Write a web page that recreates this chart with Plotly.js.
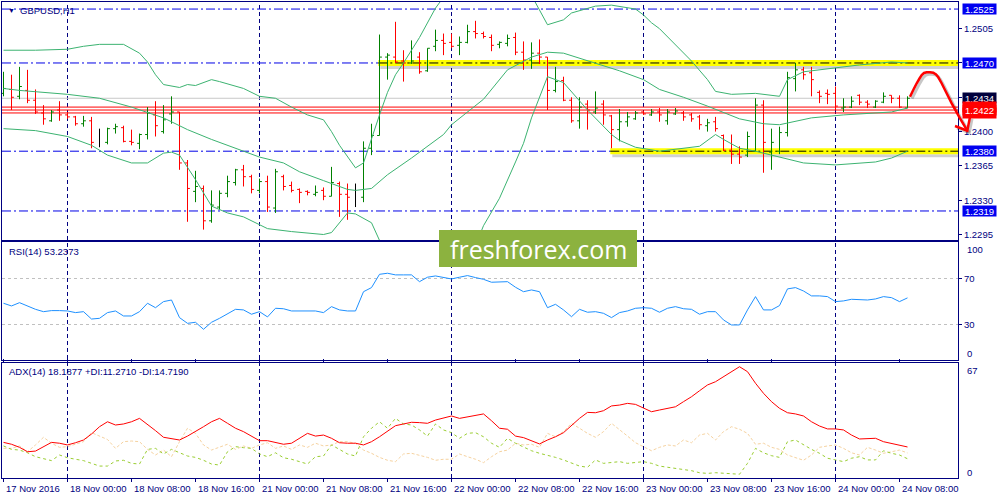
<!DOCTYPE html>
<html><head><meta charset="utf-8">
<script src="https://cdn.plot.ly/plotly-3.0.1.min.js"></script>
<style>html,body{margin:0;padding:0;background:#fff;}#chart{width:1000px;height:500px;}</style>
</head><body><div id="chart"></div>
<script>
// ---------- DATA ----------
const xLabels = ["17 Nov 2016","18 Nov 00:00","18 Nov 08:00","18 Nov 16:00","21 Nov 00:00","21 Nov 08:00","21 Nov 16:00","22 Nov 00:00","22 Nov 08:00","22 Nov 16:00","23 Nov 00:00","23 Nov 08:00","23 Nov 16:00","24 Nov 00:00","24 Nov 08:00"];
const xLabelIdx = [0,8,16,24,32,40,48,56,64,72,80,88,96,104,112];

const barOpen = [1.2439,1.2443,1.2436,1.2442,1.2432,1.2419,1.2411,1.2422,1.2417,1.2415,
1.2408,1.2411,1.2390,1.2389,1.2403,1.2404,1.2390,1.2388,1.2397,1.2417,
1.2400,1.2418,1.2420,1.2368,1.2339,1.2342,1.2309,1.2323,1.2337,1.2348,
1.2361,1.2354,1.2340,1.2349,1.2322,1.2354,1.2345,1.2341,1.2339,1.2336,
1.2340,1.2334,1.2347,1.2336,1.2333,1.2333,1.2383,1.2396,1.2476,1.2476,
1.2472,1.2470,1.2476,1.2462,1.2487,1.2493,1.2491,1.2488,1.2491,1.2502,
1.2500,1.2496,1.2489,1.2490,1.2496,1.2481,1.2473,1.2480,1.2476,1.2442,
1.2452,1.2432,1.2411,1.2428,1.2420,1.2428,1.2416,1.2402,1.2410,1.2413,
1.2420,1.2417,1.2420,1.2411,1.2418,1.2419,1.2417,1.2415,1.2406,1.2410,
1.2396,1.2381,1.2377,1.2376,1.2380,1.2427,1.2379,1.2380,1.2399,1.2454,
1.2463,1.2460,1.2440,1.2439,1.2439,1.2424,1.2425,1.2437,1.2430,1.2425,
1.2430,1.2437,1.2434,1.2424];
const barHigh = [1.2461,1.2458,1.2466,1.2463,1.2443,1.2427,1.2422,1.2431,1.2420,1.2416,
1.2416,1.2415,1.2403,1.2404,1.2408,1.2406,1.2402,1.2398,1.2425,1.2431,
1.2427,1.2436,1.2420,1.2371,1.2360,1.2345,1.2340,1.2340,1.2355,1.2362,
1.2366,1.2356,1.2352,1.2355,1.2362,1.2356,1.2349,1.2342,1.2340,1.2345,
1.2343,1.2364,1.2349,1.2347,1.2347,1.2390,1.2408,1.2499,1.2480,1.2512,
1.2483,1.2493,1.2481,1.2485,1.2504,1.2500,1.2500,1.2497,1.2509,1.2513,
1.2502,1.2499,1.2492,1.2499,1.2501,1.2492,1.2491,1.2494,1.2476,1.2466,
1.2456,1.2435,1.2435,1.2432,1.2441,1.2432,1.2417,1.2423,1.2420,1.2421,
1.2421,1.2423,1.2424,1.2423,1.2424,1.2421,1.2419,1.2417,1.2413,1.2415,
1.2397,1.2397,1.2385,1.2400,1.2434,1.2432,1.2403,1.2405,1.2461,1.2470,
1.2466,1.2466,1.2442,1.2443,1.2446,1.2434,1.2436,1.2438,1.2432,1.2432,
1.2440,1.2437,1.2437,1.2436];
const barLow = [1.2436,1.2422,1.2433,1.2429,1.2418,1.2407,1.2410,1.2411,1.2413,1.2406,
1.2405,1.2383,1.2384,1.2387,1.2398,1.2389,1.2386,1.2382,1.2392,1.2395,
1.2398,1.2408,1.2361,1.2308,1.2328,1.2300,1.2307,1.2320,1.2333,1.2345,
1.2344,1.2337,1.2337,1.2318,1.2317,1.2340,1.2338,1.2327,1.2335,1.2334,
1.2330,1.2334,1.2313,1.2310,1.2323,1.2328,1.2376,1.2396,1.2453,1.2470,
1.2451,1.2469,1.2459,1.2461,1.2482,1.2478,1.2485,1.2478,1.2490,1.2495,
1.2495,1.2482,1.2485,1.2487,1.2478,1.2463,1.2464,1.2469,1.2422,1.2440,
1.2431,1.2409,1.2403,1.2402,1.2418,1.2407,1.2383,1.2390,1.2405,1.2412,
1.2417,1.2416,1.2410,1.2407,1.2417,1.2411,1.2410,1.2402,1.2400,1.2400,
1.2380,1.2367,1.2367,1.2374,1.2380,1.2358,1.2361,1.2377,1.2395,1.2441,
1.2453,1.2436,1.2429,1.2428,1.2422,1.2420,1.2424,1.2427,1.2424,1.2424,
1.2429,1.2429,1.2424,1.2424];
const barClose = [1.2444,1.2435,1.2446,1.2432,1.2420,1.2413,1.2420,1.2417,1.2415,1.2408,
1.2411,1.2389,1.2390,1.2403,1.2405,1.2390,1.2389,1.2397,1.2419,1.2406,
1.2412,1.2420,1.2368,1.2342,1.2344,1.2309,1.2325,1.2337,1.2349,1.2361,
1.2354,1.2341,1.2349,1.2323,1.2359,1.2344,1.2340,1.2338,1.2338,1.2338,
1.2334,1.2348,1.2336,1.2333,1.2333,1.2383,1.2396,1.2476,1.2478,1.2471,
1.2470,1.2472,1.2461,1.2485,1.2493,1.2490,1.2487,1.2491,1.2502,1.2500,
1.2497,1.2488,1.2491,1.2495,1.2481,1.2473,1.2480,1.2476,1.2442,1.2451,
1.2432,1.2411,1.2425,1.2422,1.2424,1.2417,1.2402,1.2410,1.2415,1.2419,
1.2418,1.2420,1.2417,1.2420,1.2421,1.2415,1.2413,1.2407,1.2409,1.2403,
1.2381,1.2377,1.2374,1.2395,1.2427,1.2389,1.2389,1.2399,1.2455,1.2463,
1.2458,1.2453,1.2436,1.2438,1.2426,1.2425,1.2431,1.2430,1.2428,1.2431,
1.2436,1.2434,1.2425,1.2434];

// Bollinger bands (read at sampled bars)
const bbUpperIdx = [0,4,8,10,12,15,17,18,19,20,22,23,24,26,27,30,32,34,36,38,40,41,42,44,45,46,47,48,49,50,52,54,55,58,62,65,66,68,70,71,74,76,79,80,81,82,84,86,88,89,91,94,97,98,100,104,107,111,113];
const bbUpper = [1.2483,1.2483,1.2484,1.2487,1.2489,1.2489,1.2480,1.2471,1.2458,1.2448,1.2445,1.2448,1.2447,1.2453,1.2451,1.2444,1.2436,1.2434,1.2425,1.2417,1.2412,1.2400,1.2386,1.2363,1.2368,1.2393,1.2417,1.2440,1.2458,1.2470,1.2496,1.2526,1.2537,1.2560,1.2570,1.2555,1.2539,1.2509,1.2514,1.2521,1.2528,1.2529,1.2525,1.2519,1.2511,1.2505,1.2488,1.2472,1.2453,1.2441,1.2438,1.2439,1.2436,1.2453,1.2461,1.2465,1.2468,1.2471,1.2470];
const bbMidIdx = [0,2,8,12,16,20,23,26,30,32,35,37,40,43,44,46,48,51,55,56,60,63,66,68,70,72,74,77,80,82,85,88,92,95,97,101,105,111,113];
const bbMid = [1.2444,1.2442,1.2438,1.2434,1.2425,1.2414,1.2402,1.2392,1.2380,1.2374,1.2368,1.2359,1.2350,1.2341,1.2340,1.2342,1.2356,1.2373,1.2397,1.2407,1.2433,1.2463,1.2476,1.2481,1.2480,1.2475,1.2470,1.2462,1.2453,1.2443,1.2435,1.2426,1.2413,1.2408,1.2407,1.2414,1.2417,1.2420,1.2424];
const bbLowerIdx = [0,4,8,11,13,16,18,20,21,22,24,26,28,30,33,36,40,41,43,44,46,47,49,52,56,59,60,62,64,65,66,68,70,73,76,77,79,82,87,89,90,92,94,97,100,104,109,111,113];
const bbLower = [1.2403,1.2401,1.2395,1.2386,1.2376,1.2368,1.2368,1.2378,1.2379,1.2376,1.2351,1.2324,1.2317,1.2313,1.2301,1.2298,1.2295,1.2297,1.2317,1.2316,1.2307,1.2289,1.2267,1.2254,1.2259,1.2284,1.2304,1.2332,1.2369,1.2388,1.2414,1.2456,1.2450,1.2422,1.2397,1.2391,1.2384,1.2380,1.2385,1.2397,1.2392,1.2383,1.2380,1.2374,1.2368,1.2366,1.2369,1.2373,1.2380];

const rsi = [48.6,46.3,49.1,46.3,43.4,41.4,42.3,42.3,42.0,40.6,
41.4,35.1,35.7,40.6,42.0,37.7,37.7,41.4,48.6,44.8,
50.0,51.4,36.3,31.4,32.3,26.3,32.3,35.7,39.2,43.4,
42.9,39.2,41.4,36.9,44.3,43.9,42.0,42.0,42.0,42.0,
40.6,45.7,42.9,42.0,42.0,58.5,62.0,73.4,74.3,72.9,
72.9,72.9,67.1,70.9,72.0,70.9,69.4,70.9,72.3,70.6,
69.1,66.6,67.1,67.1,62.3,58.5,60.0,58.5,44.8,47.7,
42.9,37.1,43.4,40.9,41.4,40.0,36.3,40.6,42.0,44.3,
44.8,44.3,40.9,44.3,45.7,43.9,43.4,39.2,41.4,41.4,
34.3,30.0,30.0,42.9,54.3,42.9,42.9,46.6,60.9,62.0,
59.1,54.9,54.9,54.3,50.0,50.6,52.0,51.4,51.4,52.3,
54.3,53.4,50.0,53.2];
const adx = [20.9,19.8,18.0,15.4,15.8,18.4,20.9,20.4,19.4,20.7,
22.3,25.8,30.1,33.0,31.1,31.7,33.0,35.0,31.5,27.8,
23.9,23.3,22.3,24.6,27.2,30.1,33.0,35.0,32.1,29.2,
27.2,24.6,21.9,21.9,20.9,19.8,20.4,23.3,26.2,24.6,
25.2,23.3,20.7,20.4,20.4,19.4,21.3,24.2,27.2,30.7,
31.7,32.7,32.5,32.1,34.0,35.4,36.4,35.0,36.0,37.0,
37.6,33.6,29.2,28.6,24.6,23.7,21.7,20.0,22.3,24.2,
26.6,31.1,35.0,38.5,38.3,39.5,42.3,42.8,43.8,43.2,
40.9,38.9,39.9,40.9,41.8,44.8,47.7,51.2,54.6,56.5,
59.4,62.4,65.3,62.4,55.6,49.7,44.8,40.9,38.3,37.6,
36.4,33.0,30.5,28.8,28.8,28.2,25.2,22.9,23.3,23.3,
21.3,20.4,19.4,18.2];
const plusDI = [18.8,16.8,16.4,14.8,12.5,11.2,10.2,13.5,11.9,11.0,
10.2,8.6,7.0,7.0,10.0,10.4,8.6,8.2,16.8,17.4,
14.1,16.8,14.8,12.9,12.1,10.4,8.2,7.6,15.4,18.4,
17.8,17.4,14.1,12.5,14.8,11.9,11.0,9.6,8.2,12.5,
12.9,19.4,16.8,14.1,12.9,24.2,29.2,33.0,29.2,35.0,
31.7,31.1,28.2,24.6,31.7,28.2,26.6,23.3,26.2,26.6,
24.2,20.4,18.0,23.3,20.4,18.0,16.0,14.5,13.5,12.1,
10.6,9.0,7.0,6.3,10.6,8.6,9.0,9.6,8.6,9.0,
9.6,8.6,7.0,6.3,5.7,5.1,4.3,3.1,2.7,3.1,
2.7,2.2,2.2,8.6,17.4,14.8,13.1,12.1,21.3,22.3,
19.4,16.8,14.5,11.6,10.6,9.6,11.6,12.5,10.6,10.6,
16.0,14.5,13.5,11.3];
const minusDI = [17.4,17.4,18.8,15.4,19.4,23.9,20.4,18.0,18.4,19.8,
21.3,26.6,24.6,22.6,17.4,21.3,21.7,21.3,16.8,13.5,
16.4,12.5,21.3,29.2,26.2,19.4,16.4,18.0,19.8,16.8,
18.8,17.4,19.4,20.7,17.4,18.8,16.8,19.4,18.0,20.4,
18.8,19.4,21.3,21.3,20.4,16.4,14.5,12.1,10.4,9.6,
14.1,14.5,13.5,12.1,10.4,11.0,11.0,14.1,12.5,11.0,
9.0,12.5,15.4,16.4,20.4,19.4,19.8,18.0,26.2,24.2,
27.2,32.1,29.2,26.2,23.9,27.2,32.1,28.6,24.6,20.7,
18.4,16.0,18.0,19.4,18.8,22.3,20.7,25.2,26.2,22.3,
27.2,30.1,28.6,26.2,19.8,20.4,18.0,16.8,13.5,12.1,
10.4,13.5,18.0,18.8,19.4,17.4,14.8,13.5,18.0,16.4,
14.5,15.4,16.4,14.7];

const levelPrices = [1.2525, 1.2470, 1.2380, 1.2319];
const levelHighlightFrom = [null, 47, 76, null];   // bar where the yellow zone starts
const redLinePrices = [1.2425, 1.2422, 1.2419];
const priceTicks = [1.2505, 1.2470, 1.2435, 1.2400, 1.2365, 1.2330, 1.2295];
const rsiLevels = [30, 70];

// ---------- LAYOUT CONSTANTS ----------
const NAVY = '#000080';
const FONT = 'Liberation Sans, Arial, sans-serif';
const X_RANGE = [-0.1875, 119.3125];
const DOM_MAIN = [0.50105, 1], DOM_RSI = [0.24885, 0.49686], DOM_ADX = [0.0021, 0.24423];
const L = 2, R = 42, T = 2, B = 21, W = 1000, H = 500;
const PW = W - L - R, PH = H - T - B;
const px2paper = (X, Y) => [(X - L) / PW, (H - B - Y) / PH];

// ---------- TRACES ----------
const idx = barClose.map((_, i) => i);
const dojiIdx = idx.filter(i => barOpen[i] === barClose[i]);
const normIdx = idx.filter(i => barOpen[i] !== barClose[i]);
const pick = (a, ids) => ids.map(i => a[i]);
const minDiff = ids => { let m = Infinity; for (let k = 1; k < ids.length; k++) m = Math.min(m, ids[k] - ids[k-1]); return isFinite(m) ? m : 1; };

const traces = [];
traces.push({type:'scatter', mode:'lines', x:bbUpperIdx, y:bbUpper, line:{color:'#3CB371', width:1}, xaxis:'x', yaxis:'y', hoverinfo:'skip'});
traces.push({type:'scatter', mode:'lines', x:bbMidIdx, y:bbMid, line:{color:'#3CB371', width:1}, xaxis:'x', yaxis:'y', hoverinfo:'skip'});
traces.push({type:'scatter', mode:'lines', x:bbLowerIdx, y:bbLower, line:{color:'#3CB371', width:1}, xaxis:'x', yaxis:'y', hoverinfo:'skip'});
traces.push({type:'ohlc', x:normIdx, open:pick(barOpen,normIdx), high:pick(barHigh,normIdx), low:pick(barLow,normIdx), close:pick(barClose,normIdx),
  increasing:{line:{color:'#008000', width:1}}, decreasing:{line:{color:'#FF0000', width:1}},
  tickwidth:0.3 / minDiff(normIdx), xaxis:'x', yaxis:'y', hoverinfo:'skip'});
if (dojiIdx.length) traces.push({type:'ohlc', x:dojiIdx, open:pick(barOpen,dojiIdx), high:pick(barHigh,dojiIdx), low:pick(barLow,dojiIdx), close:pick(barClose,dojiIdx),
  increasing:{line:{color:'#000000', width:1}}, decreasing:{line:{color:'#000000', width:1}},
  tickwidth:Math.min(0.5, 0.3 / minDiff(dojiIdx)), xaxis:'x', yaxis:'y', hoverinfo:'skip'});
traces.push({type:'scatter', mode:'lines', x:idx, y:rsi, line:{color:'#1E90FF', width:1}, xaxis:'x', yaxis:'y2', hoverinfo:'skip'});
traces.push({type:'scatter', mode:'lines', x:idx, y:minusDI, line:{color:'#F5D2A0', width:1, dash:'3px,2px'}, xaxis:'x', yaxis:'y3', hoverinfo:'skip'});
traces.push({type:'scatter', mode:'lines', x:idx, y:plusDI, line:{color:'#9ACD32', width:1, dash:'3px,3px'}, xaxis:'x', yaxis:'y3', hoverinfo:'skip'});
traces.push({type:'scatter', mode:'lines', x:idx, y:adx, line:{color:'#FF0000', width:1}, xaxis:'x', yaxis:'y3', hoverinfo:'skip'});

// ---------- SHAPES ----------
const shapes = [];
xLabels.forEach((t, k) => {
  if (t.endsWith('00:00')) shapes.push({type:'line', xref:'x', yref:'paper', x0:xLabelIdx[k], x1:xLabelIdx[k], y0:DOM_ADX[0], y1:1, line:{color:NAVY, width:1, dash:'4px,3px'}, layer:'below'});
});
levelPrices.forEach(p => shapes.push({type:'line', xref:'paper', yref:'y', x0:0, x1:1, y0:p, y1:p, line:{color:'#0000E6', width:1, dash:'9px,3px,2px,3px'}, layer:'below'}));
const lastClose = barClose[barClose.length - 1];
shapes.push({type:'line', xref:'paper', yref:'y', x0:0, x1:1, y0:lastClose, y1:lastClose, line:{color:'#C8C8C8', width:1}, layer:'below'});
redLinePrices.forEach(p => shapes.push({type:'line', xref:'paper', yref:'y', x0:0, x1:1, y0:p, y1:p, line:{color:'#FF0000', width:1}, layer:'below'}));
levelPrices.forEach((p, k) => {
  const s = levelHighlightFrom[k];
  if (s === null) return;
  const x0 = s - 0.15;
  shapes.push({type:'rect', xref:'x', yref:'y', x0:x0 + 0.25, x1:X_RANGE[1], ysizemode:'pixel', yanchor:p, y0:-6, y1:-3, fillcolor:'rgba(0,0,0,0.18)', line:{width:0}, layer:'below'});
  shapes.push({type:'rect', xref:'x', yref:'y', x0:x0, x1:X_RANGE[1], ysizemode:'pixel', yanchor:p, y0:-3, y1:3, fillcolor:'#FFFF00', line:{width:0}, layer:'below'});
  shapes.push({type:'line', xref:'x', yref:'y', x0:x0, x1:X_RANGE[1], y0:p, y1:p, line:{color:'#000000', width:1, dash:'9px,3px,2px,3px'}, layer:'below'});
});
// logo box
const lg0 = px2paper(439, 267), lg1 = px2paper(637, 230);
shapes.push({type:'rect', xref:'paper', yref:'paper', x0:lg0[0], x1:lg1[0], y0:lg0[1], y1:lg1[1], fillcolor:'#8CB23F', line:{width:0}, layer:'above'});
// hand-drawn forecast arrow (decoration, pixel geometry)
const arrowPts = [[910,96.7],[913.5,89.5],[916.7,83.3],[919.5,78.5],[921.7,75],[924,73],[926.7,72.3],[930,72.2],[933.3,72.7],[936,74.5],[938.3,77.3],[941.5,83],[945,90],[951.7,103.3],[960,118.3],[967.3,130.7]];
const headPts = [[955,126],[967.3,130.7],[970,117]];
const toPath = (pts, dx, dy) => pts.map((q, k) => { const p = px2paper(q[0] + dx, q[1] + dy); return (k ? 'L' : 'M') + p[0].toFixed(5) + ',' + p[1].toFixed(5); }).join(' ');
shapes.push({type:'path', xref:'paper', yref:'paper', path:toPath(arrowPts, 2, 2), line:{color:'rgba(0,0,0,0.22)', width:3}, layer:'above'});
shapes.push({type:'path', xref:'paper', yref:'paper', path:toPath(headPts, 2, 2), line:{color:'rgba(0,0,0,0.22)', width:3}, layer:'above'});
shapes.push({type:'path', xref:'paper', yref:'paper', path:toPath(arrowPts, 0, 0), line:{color:'#FF0000', width:2.5}, layer:'above'});
shapes.push({type:'path', xref:'paper', yref:'paper', path:toPath(headPts, 0, 0), line:{color:'#FF0000', width:2.5}, layer:'above'});

// ---------- ANNOTATIONS ----------
const ann = [];
xLabels.forEach((t, k) => ann.push({xref:'x', yref:'paper', x:xLabelIdx[k], y:px2paper(0, 488.5)[1], xanchor:'left', yanchor:'middle', xshift:0.5, text:t, showarrow:false, font:{family:FONT, size:9.5, color:NAVY}}));
const tag = (p, bg, label) => ({xref:'paper', yref:'y', x:1, y:p, xanchor:'left', yanchor:'middle', xshift:3.5, text:label === undefined ? p.toFixed(4) : label, showarrow:false, bgcolor:bg, width:33, height:10, borderpad:0, font:{family:FONT, size:9.5, color:'#FFFFFF'}});
levelPrices.forEach(p => ann.push(tag(p, '#0000F0')));
ann.push(tag(lastClose, '#00003C'));
// stacked red price tags: the two lower ones are hidden under the 1.2422 tag
ann.push(tag(redLinePrices[0], '#FF0000', '&nbsp;'));
ann.push(tag(redLinePrices[2], '#FF0000', '&nbsp;'));
ann.push(tag(redLinePrices[1], '#FF0000'));
const txt = (X, Y, s, size, anchor) => { const p = px2paper(X, Y); return {xref:'paper', yref:'paper', x:p[0], y:p[1], xanchor:anchor || 'left', yanchor:'middle', text:s, showarrow:false, font:{family:FONT, size:size || 9.5, color:NAVY}}; };
ann.push(txt(6, 10.5, '▼', 7));
ann.push(txt(18, 10.7, 'GBPUSD,H1'));
ann.push(txt(7, 251.7, 'RSI(14) 53.2373'));
ann.push(txt(7, 371.7, 'ADX(14) 18.1877 +DI:11.2710 -DI:14.7190'));
ann.push(txt(965, 249, '100'));
ann.push(txt(965, 353, '0'));
ann.push(txt(965, 370, '67'));
ann.push(txt(965, 472.5, '0'));
const lc = px2paper(538, 248.5);
ann.push({xref:'paper', yref:'paper', x:lc[0], y:lc[1], xanchor:'center', yanchor:'middle', text:'freshforex.com', showarrow:false, font:{family:'Open Sans, sans-serif', size:25, color:'#FFFFFF'}});

// ---------- LAYOUT ----------
const axFont = {family:FONT, size:9.5, color:NAVY};
const layout = {
  width:W, height:H, margin:{l:L, r:R, t:T, b:B, pad:0},
  paper_bgcolor:'#FFFFFF', plot_bgcolor:'#FFFFFF', showlegend:false, hovermode:false,
  xaxis:{domain:[0,1], range:X_RANGE, anchor:'y3', showgrid:false, zeroline:false, showline:true, mirror:'all', linecolor:NAVY, linewidth:1,
    tickvals:xLabelIdx, ticks:'outside', ticklen:3, tickcolor:NAVY, showticklabels:false, rangeslider:{visible:false}, fixedrange:true},
  yaxis:{domain:DOM_MAIN, range:[1.22894, 1.25322], side:'right', anchor:'x', showgrid:false, zeroline:false, showline:true, mirror:true, linecolor:NAVY,
    tickvals:priceTicks, ticktext:priceTicks.map(v => v.toFixed(4)), ticks:'outside', ticklen:3, tickcolor:NAVY, tickfont:axFont, fixedrange:true},
  yaxis2:{domain:DOM_RSI, range:[-0.26, 101.07], side:'right', anchor:'x', showgrid:true, gridcolor:'#C0C0C0', griddash:'3px,3px', zeroline:false, showline:true, mirror:true, linecolor:NAVY,
    tickvals:rsiLevels, ticktext:rsiLevels.map(String), ticks:'outside', ticklen:3, tickcolor:NAVY, tickfont:axFont, fixedrange:true},
  yaxis3:{domain:DOM_ADX, range:[0, 67.78], side:'right', anchor:'x', showgrid:false, zeroline:false, showline:true, mirror:true, linecolor:NAVY,
    showticklabels:false, ticks:'', fixedrange:true},
  shapes:shapes, annotations:ann
};
Plotly.newPlot('chart', traces, layout, {staticPlot:true, displayModeBar:false});
</script></body></html>
